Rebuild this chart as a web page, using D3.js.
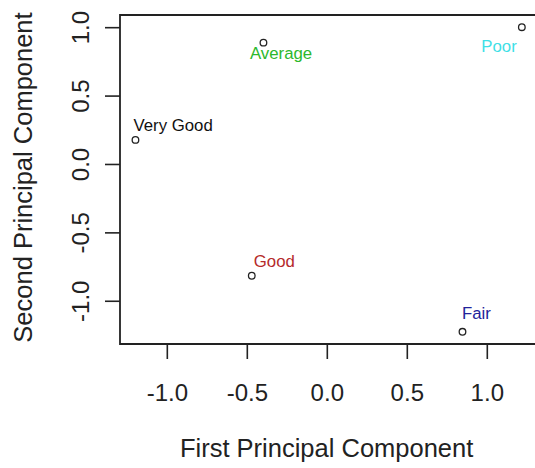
<!DOCTYPE html>
<html>
<head>
<meta charset="utf-8">
<script src="https://cdn.jsdelivr.net/npm/d3@7"></script>
<style>
  html, body { margin: 0; padding: 0; background: #fff; }
  svg { display: block; font-family: "Liberation Sans", Arial, sans-serif; }
</style>
</head>
<body>
<svg id="chart" width="535" height="468"></svg>
<script>
// ---- data ----
const categories = ["Very Good", "Average", "Poor", "Good", "Fair"];
const pc1 = [-1.196, -0.396, 1.219, -0.469, 0.848];
const pc2 = [0.176, 0.887, 1.0, -0.817, -1.227];
const xTicks = [-1.0, -0.5, 0.0, 0.5, 1.0];
const yTicks = [-1.0, -0.5, 0.0, 0.5, 1.0];
const xTitle = "First Principal Component";
const yTitle = "Second Principal Component";

// ---- style / layout ----
const labelColors = ["#111111", "#2cb82c", "#3fe0e6", "#b52a2a", "#22229a"];
const labelOffsets = [[-2, -8.5], [-13.5, 16.8], [-40.5, 24.4], [2, -9], [-0.6, -12.4]];
const plot = { left: 120, right: 537.3, top: 15, bottom: 344 };

const svg = d3.select("#chart");

function padExtent(arr) {
  const [a, b] = d3.extent(arr);
  const p = (b - a) * 0.04;
  return [a - p, b + p];
}

const x = d3.scaleLinear().domain(padExtent(pc1)).range([plot.left, plot.right]);
const y = d3.scaleLinear().domain(padExtent(pc2)).range([plot.bottom, plot.top]);

const f1 = d3.format(".1f");
const fmt = d => f1(d).replace("\u2212", "-");
const ink = "#222";

// x axis
const xAxis = svg.append("g")
  .attr("transform", `translate(0,${plot.bottom})`)
  .call(d3.axisBottom(x).tickValues(xTicks).tickSize(15).tickPadding(0).tickFormat(fmt));
xAxis.select(".domain").remove();
xAxis.selectAll(".tick line").attr("stroke", ink).attr("stroke-width", 1.6);
xAxis.selectAll(".tick text")
  .attr("y", 57).attr("dy", 0)
  .attr("fill", ink)
  .style("font-size", "24px")
  .style("font-family", "'Liberation Sans', Arial, sans-serif");

// y axis
const yAxis = svg.append("g")
  .attr("transform", `translate(${plot.left},0)`)
  .call(d3.axisLeft(y).tickValues(yTicks).tickSize(15).tickPadding(0).tickFormat(fmt));
yAxis.select(".domain").remove();
yAxis.selectAll(".tick line").attr("stroke", ink).attr("stroke-width", 1.6);
yAxis.selectAll(".tick text")
  .attr("x", 0).attr("dy", 0)
  .attr("transform", "translate(-31,0) rotate(-90)")
  .attr("text-anchor", "middle")
  .attr("fill", ink)
  .style("font-size", "24px")
  .style("font-family", "'Liberation Sans', Arial, sans-serif");

// box (right edge falls outside the canvas)
svg.append("path")
  .attr("d", `M${plot.right},${plot.top} L${plot.left},${plot.top} L${plot.left},${plot.bottom} L${plot.right},${plot.bottom}`)
  .attr("fill", "none")
  .attr("stroke", ink)
  .attr("stroke-width", 1.8);

// titles
svg.append("text")
  .attr("x", (plot.left + plot.right) / 2 - 2)
  .attr("y", 456.5)
  .attr("text-anchor", "middle")
  .attr("fill", ink)
  .style("font-size", "25.5px")
  .text(xTitle);

svg.append("text")
  .attr("transform", `translate(32,${(plot.top + plot.bottom) / 2 - 2}) rotate(-90)`)
  .attr("text-anchor", "middle")
  .attr("fill", ink)
  .style("font-size", "25.5px")
  .text(yTitle);

// points
const pts = categories.map((c, i) => ({ c, x: pc1[i], y: pc2[i], col: labelColors[i], off: labelOffsets[i] }));

svg.append("g").selectAll("circle").data(pts).join("circle")
  .attr("cx", d => x(d.x))
  .attr("cy", d => y(d.y))
  .attr("r", 3.3)
  .attr("fill", "none")
  .attr("stroke", ink)
  .attr("stroke-width", 1.3);

svg.append("g").selectAll("text").data(pts).join("text")
  .attr("x", d => x(d.x) + d.off[0])
  .attr("y", d => y(d.y) + d.off[1])
  .attr("fill", d => d.col)
  .style("font-size", "16.8px")
  .text(d => d.c);
</script>
</body>
</html>
